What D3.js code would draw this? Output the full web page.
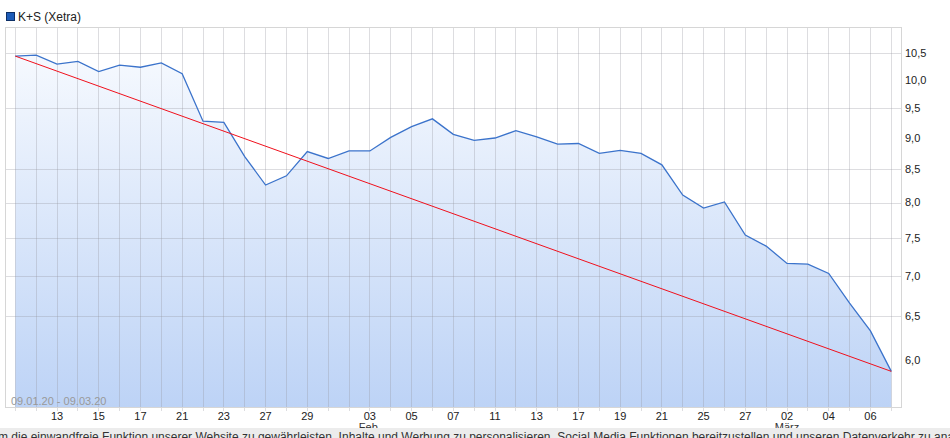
<!DOCTYPE html>
<html>
<head>
<meta charset="utf-8">
<script src="https://cdn.jsdelivr.net/npm/d3@7"></script>
<style>
  body { margin: 0; background: #fff; overflow: hidden; }
  svg { display: block; font-family: "Liberation Sans", Arial, sans-serif; }
</style>
</head>
<body>
<svg id="chart" width="950" height="438"></svg>
<script>
// Handelstage 09.01.20 - 09.03.20
const dates = [
  "2020-01-09", "2020-01-10", "2020-01-13", "2020-01-14", "2020-01-15", "2020-01-16", "2020-01-17",
  "2020-01-20", "2020-01-21", "2020-01-22", "2020-01-23", "2020-01-24", "2020-01-27", "2020-01-28",
  "2020-01-29", "2020-01-30", "2020-01-31", "2020-02-03", "2020-02-04", "2020-02-05", "2020-02-06",
  "2020-02-07", "2020-02-10", "2020-02-11", "2020-02-12", "2020-02-13", "2020-02-14", "2020-02-17",
  "2020-02-18", "2020-02-19", "2020-02-20", "2020-02-21", "2020-02-24", "2020-02-25", "2020-02-26",
  "2020-02-27", "2020-02-28", "2020-03-02", "2020-03-03", "2020-03-04", "2020-03-05", "2020-03-06",
  "2020-03-09"
]
const prices = [
  10.45, 10.47, 10.30, 10.35, 10.16, 10.28, 10.24,
  10.32, 10.12, 9.28, 9.26, 8.70, 8.26, 8.40,
  8.78, 8.67, 8.79, 8.79, 9.01, 9.19, 9.32,
  9.06, 8.96, 9.00, 9.12, 9.02, 8.90, 8.91,
  8.75, 8.80, 8.75, 8.57, 8.11, 7.92, 8.01,
  7.54, 7.39, 7.16, 7.15, 7.03, 6.66, 6.33,
  5.88
]
const yLabels = [10.5, 10, 9.5, 9, 8.5, 8, 7.5, 7, 6.5, 6]
const yGrid = [10.5, 9.5, 8.5, 8, 7.5, 7, 6.5]
const xLabels = [
  "2020-01-13", "2020-01-15", "2020-01-17", "2020-01-21", "2020-01-23", "2020-01-27", "2020-01-29",
  "2020-02-03", "2020-02-05", "2020-02-07", "2020-02-11", "2020-02-13", "2020-02-17", "2020-02-19",
  "2020-02-21", "2020-02-25", "2020-02-27", "2020-03-02", "2020-03-04", "2020-03-06"
]
const monthLabels = [
  { date: "2020-02-03", text: "Feb." },
  { date: "2020-03-02", text: "März" }
]
const title = "K+S (Xetra)"
const rangeText = "09.01.20 - 09.03.20"
const bannerText = "m die einwandfreie Funktion unserer Website zu gewährleisten, Inhalte und Werbung zu personalisieren, Social Media Funktionen bereitzustellen und unseren Datenverkehr zu analysieren."

let svg = d3.select("#chart")
let frame = { left: 5, right: 901, top: 27, bottom: 407 }

let xScale = d3.scalePoint().domain(dates).range([15.3, 891.3])
let yScale = d3.scaleLog().domain([5.51, 11.02]).range([frame.bottom, frame.top])

let data = dates.map((d, i) => ({ date: d, value: prices[i] }))

// Verlauf fuer die Flaeche
let grad = svg.append("defs")
  .append("linearGradient")
  .attr("id", "areaFill")
  .attr("gradientUnits", "userSpaceOnUse")
  .attr("x1", 0).attr("x2", 0)
  .attr("y1", frame.top).attr("y2", frame.bottom)
grad.append("stop").attr("offset", "0%").attr("stop-color", "#fafcff")
grad.append("stop").attr("offset", "100%").attr("stop-color", "#bdd3f6")

// Legende
svg.append("rect")
  .attr("x", 6.5).attr("y", 12.5)
  .attr("width", 8).attr("height", 8)
  .attr("fill", "#1d5cb8")
  .attr("stroke", "#0d2f66")
svg.append("text")
  .attr("x", 18).attr("y", 21)
  .attr("font-size", "12px")
  .attr("fill", "#222")
  .text(title)

let area = d3.area()
  .x(d => xScale(d.date))
  .y0(frame.bottom)
  .y1(d => yScale(d.value))
svg.append("path")
  .datum(data)
  .attr("d", area)
  .attr("fill", "url(#areaFill)")

// Gitter
let gridColor = "rgba(150,150,158,0.32)"
svg.append("g")
  .selectAll("line")
  .data(dates)
  .enter()
  .append("line")
  .attr("x1", d => xScale(d)).attr("x2", d => xScale(d))
  .attr("y1", frame.top).attr("y2", frame.bottom + 4)
  .attr("stroke", gridColor)
  .attr("shape-rendering", "crispEdges")
svg.append("g")
  .selectAll("line")
  .data(yGrid)
  .enter()
  .append("line")
  .attr("x1", frame.left).attr("x2", frame.right)
  .attr("y1", d => Math.round(yScale(d)) + 0.5).attr("y2", d => Math.round(yScale(d)) + 0.5)
  .attr("stroke", gridColor)
svg.append("rect")
  .attr("x", frame.left + 0.5).attr("y", frame.top + 0.5)
  .attr("width", frame.right - frame.left).attr("height", frame.bottom - frame.top)
  .attr("fill", "none")
  .attr("stroke", "#d6d6d6")

let line = d3.line()
  .x(d => xScale(d.date))
  .y(d => yScale(d.value))
svg.append("path")
  .datum(data)
  .attr("d", line)
  .attr("fill", "none")
  .attr("stroke", "#3b73cb")
  .attr("stroke-width", 1.3)

// Linie erster bis letzter Kurs
svg.append("path")
  .datum([data[0], data[data.length - 1]])
  .attr("d", line)
  .attr("fill", "none")
  .attr("stroke", "#f0101c")
  .attr("stroke-width", 1)

// Achsenbeschriftung
svg.append("g")
  .selectAll("text")
  .data(yLabels)
  .enter()
  .append("text")
  .attr("x", 905)
  .attr("y", d => yScale(d))
  .attr("dy", "0.35em")
  .attr("font-size", "11px")
  .attr("fill", "#222")
  .text(d => d3.format(".1f")(d).replace(".", ","))

svg.append("g")
  .selectAll("text")
  .data(xLabels)
  .enter()
  .append("text")
  .attr("x", d => xScale(d))
  .attr("y", 420)
  .attr("text-anchor", "middle")
  .attr("font-size", "11px")
  .attr("fill", "#222")
  .text(d => d.slice(8))

svg.append("g")
  .selectAll("text")
  .data(monthLabels)
  .enter()
  .append("text")
  .attr("x", d => xScale(d.date))
  .attr("y", 431)
  .attr("text-anchor", "middle")
  .attr("font-size", "11px")
  .attr("fill", "#333")
  .text(d => d.text)

svg.append("text")
  .attr("x", 11).attr("y", 405)
  .attr("font-size", "11px")
  .attr("fill", "#999")
  .text(rangeText)

// Cookie-Hinweis unten
svg.append("rect")
  .attr("x", 0).attr("y", 428)
  .attr("width", 950).attr("height", 10)
  .attr("fill", "#ececec")
svg.append("text")
  .attr("x", -2).attr("y", 441)
  .attr("font-size", "12px")
  .attr("fill", "#333")
  .text(bannerText)
</script>
</body>
</html>
